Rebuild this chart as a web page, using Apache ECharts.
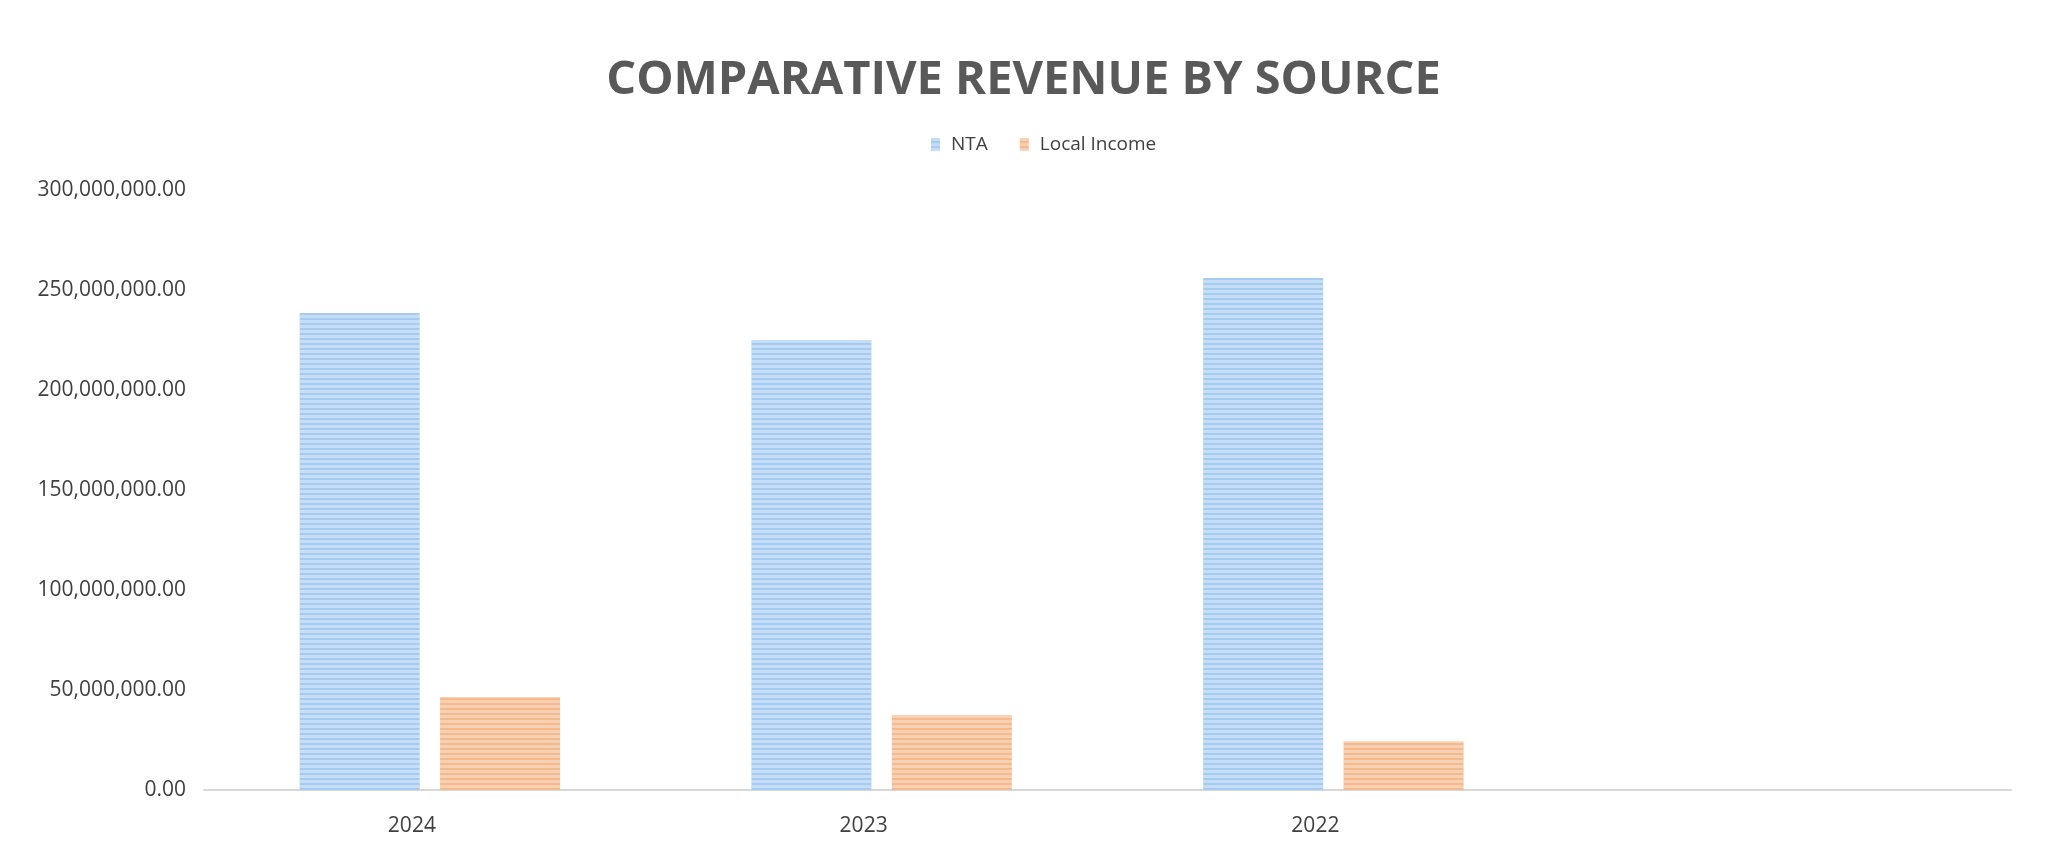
<!DOCTYPE html>
<html>
<head>
<meta charset="utf-8">
<style>
html,body{margin:0;padding:0;background:#fff;}
#chart{width:2047px;height:861px;}
</style>
<script src="https://cdn.jsdelivr.net/npm/echarts@6/dist/echarts.min.js"></script>
</head>
<body>
<div id="chart"></div>
<script>
var categories = ['2024', '2023', '2022', ''];
var ntaValues = [238500000, 225000000, 256000000, null];
var localIncomeValues = [46500000, 37500000, 24300000, null];
var seriesNames = ['NTA', 'Local Income'];
var titleText = 'COMPARATIVE REVENUE BY SOURCE';

var chart = echarts.init(document.getElementById('chart'));
function fmt(v){
  return v.toLocaleString('en-US', {minimumFractionDigits:2, maximumFractionDigits:2});
}
var stripe = {symbol: 'rect', symbolSize: 1, dashArrayX: [1, 0], dashArrayY: [3, 2], rotation: 0, color: 'rgba(255,255,255,0.35)'};
chart.setOption({
  backgroundColor: '#ffffff',
  animation: false,
  title: {
    text: titleText,
    left: 'center',
    top: 52,
    textStyle: {fontFamily: 'Open Sans', fontWeight: 'bold', fontSize: 47, color: '#595959'}
  },
  legend: {
    data: seriesNames,
    top: 130,
    left: 926,
    itemWidth: 9,
    itemHeight: 13,
    itemGap: 32,
    icon: 'rect',
    textStyle: {fontFamily: 'Open Sans', fontSize: 19, color: '#404040', padding: [0,0,0,6]}
  },
  grid: {left: 204, right: 36, top: 190, bottom: 71, containLabel: false},
  xAxis: {
    type: 'category',
    data: categories,
    axisLine: {show: true, lineStyle: {color: '#d9d9d9', width: 2}},
    axisTick: {show: false},
    axisLabel: {fontFamily: 'Open Sans', fontSize: 21, color: '#404040', margin: 26, padding: [0, 36, 0, 0]}
  },
  yAxis: {
    type: 'value',
    min: 0,
    max: 300000000,
    interval: 50000000,
    axisLine: {show: false},
    axisTick: {show: false},
    splitLine: {show: false},
    axisLabel: {fontFamily: 'Open Sans', fontSize: 21, color: '#404040', margin: 18, formatter: fmt}
  },
  series: [
    {
      name: seriesNames[0],
      type: 'bar',
      data: ntaValues,
      barWidth: 120,
      barGap: '17%',
      itemStyle: {color: '#a6cbf1', decal: stripe}
    },
    {
      name: seriesNames[1],
      type: 'bar',
      data: localIncomeValues,
      barWidth: 120,
      barGap: '17%',
      itemStyle: {color: '#f5b98c', decal: stripe}
    }
  ]
});
</script>
</body>
</html>
